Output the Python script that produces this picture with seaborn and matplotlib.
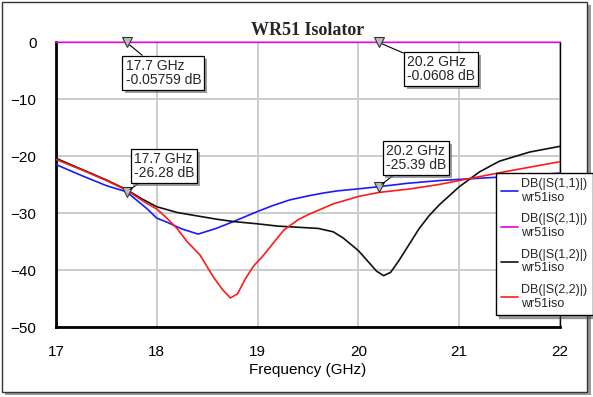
import numpy as np
import pandas as pd
import seaborn as sns
import matplotlib.pyplot as plt
import matplotlib.patheffects as pe
from matplotlib.patches import Rectangle

# S11 (blue)
f_s11 = [17.0, 17.25, 17.5, 17.7, 17.9, 18.0, 18.1, 18.25, 18.41, 18.59, 18.76, 18.99,
         19.15, 19.32, 19.5, 19.65, 19.8, 19.98, 20.2, 20.48, 20.81, 21.0, 21.5, 22.0]
db_s11 = [-21.5, -23.4, -25.2, -26.28, -29.2, -30.9, -31.6, -32.8, -33.7, -32.7, -31.5, -29.8,
          -28.7, -27.7, -27.0, -26.5, -26.1, -25.8, -25.39, -24.8, -24.3, -24.1, -23.6, -23.0]

# S21 (magenta)
f_s21 = [17.0, 17.7, 20.2, 22.0]
db_s21 = [-0.06, -0.05759, -0.0608, -0.06]

# S12 (black)
f_s12 = [17.0, 17.25, 17.5, 17.7, 17.85, 18.0, 18.2, 18.43, 18.6, 18.76, 19.0, 19.2, 19.4,
         19.6, 19.75, 19.85, 20.0, 20.1, 20.18, 20.25, 20.32, 20.4, 20.5, 20.6, 20.7, 20.8,
         21.0, 21.2, 21.4, 21.7, 22.0]
db_s12 = [-20.4, -22.3, -24.2, -25.9, -27.5, -28.9, -29.9, -30.6, -31.1, -31.5, -31.9, -32.3,
          -32.5, -32.7, -33.3, -34.4, -36.6, -38.6, -40.2, -41.0, -40.4, -38.4, -35.6, -32.8,
          -30.5, -28.6, -25.4, -22.8, -20.9, -19.3, -18.3]

# S22 (red)
f_s22 = [17.0, 17.25, 17.5, 17.7, 17.9, 18.0, 18.1, 18.2, 18.3, 18.43, 18.56, 18.65, 18.73,
         18.8, 18.88, 18.96, 19.05, 19.15, 19.26, 19.4, 19.5, 19.75, 20.0, 20.2, 20.5,
         20.8, 21.0, 21.5, 22.0]
db_s22 = [-20.6, -22.4, -24.3, -26.0, -28.3, -29.3, -30.9, -32.7, -35.0, -37.4, -41.2, -43.4,
          -44.9, -44.2, -41.5, -39.3, -37.6, -35.4, -33.0, -31.2, -30.3, -28.4, -27.1, -26.4,
          -25.8, -25.0, -24.3, -22.6, -21.0]

labels = ['DB(|S(1,1)|)\nwr51iso', 'DB(|S(2,1)|)\nwr51iso',
          'DB(|S(1,2)|)\nwr51iso', 'DB(|S(2,2)|)\nwr51iso']
colors = ['#1a1aff', '#e000e0', '#111111', '#ff1a1a']

# markers: (freq, dB, text, text x, text y)
markers = [
    (17.7, -0.05759, '17.7 GHz\n-0.05759 dB', 17.69, -5.4),
    (20.2, -0.0608, '20.2 GHz\n-0.0608 dB', 20.48, -4.75),
    (17.7, -26.28, '17.7 GHz\n-26.28 dB', 17.77, -21.8),
    (20.2, -25.39, '20.2 GHz\n-25.39 dB', 20.27, -20.35),
]

sns.set_theme(style='whitegrid', rc={'grid.color': '#cccccc', 'grid.linewidth': 1.4})
plt.rcParams['font.family'] = ['Liberation Sans', 'DejaVu Sans']

fig = plt.figure(figsize=(5.93, 3.97), dpi=100)
ax = fig.add_axes([0.0944, 0.1763, 0.85, 0.7179])

series = [(f_s11, db_s11), (f_s21, db_s21), (f_s12, db_s12), (f_s22, db_s22)]
for (fx, dbx), lab, c in zip(series, labels, colors):
    sns.lineplot(x=fx, y=dbx, ax=ax, color=c, lw=1.2, label=lab,
                 clip_on=(c != '#e000e0'), zorder=3)

for fm, dbm, txt, tx, ty in markers:
    ax.plot(fm, dbm, marker='v', ms=7, mfc='#bbbbbb', mec='#333333', mew=0.8,
            clip_on=False, zorder=5)
    a = ax.annotate(txt, xy=(fm, dbm), xytext=(tx, ty), fontsize=10, ha='left', va='center',
                    linespacing=1.0,
                    bbox=dict(boxstyle='square,pad=0.22', fc='white', ec='black', lw=0.9),
                    arrowprops=dict(arrowstyle='-', color='black', lw=0.8, shrinkA=0, shrinkB=3),
                    zorder=6)
    a.get_bbox_patch().set_path_effects([pe.withSimplePatchShadow(offset=(2, -2),
                                                                  shadow_rgbFace='#777777', alpha=0.7)])

ax.set_xlim(17, 22)
ax.set_ylim(-50, 0)
ax.set_xticks([17, 18, 19, 20, 21, 22])
ax.set_yticks([0, -10, -20, -30, -40, -50])
ax.tick_params(axis='both', length=0, labelsize=11, colors='black')
ax.tick_params(axis='y', pad=14)
ax.tick_params(axis='x', pad=13)
ax.set_xlabel('Frequency (GHz)', fontsize=11, color='black', labelpad=3)
ax.set_ylabel('')
for side in ['left', 'bottom']:
    ax.spines[side].set_color('black')
    ax.spines[side].set_linewidth(2)
for side in ['right', 'top']:
    ax.spines[side].set_color('black')
    ax.spines[side].set_linewidth(1)
ax.spines['top'].set_visible(False)

ax.set_title('WR51 Isolator', fontsize=13, fontweight='bold',
             family=['Liberation Serif', 'DejaVu Serif'], pad=5)

ax.get_legend().remove()
h, l = ax.get_legend_handles_labels()
leg = fig.legend(h, l, loc='upper left', bbox_to_anchor=(0.836, 0.565), fontsize=9,
                 frameon=True, fancybox=False, shadow=True, edgecolor='black',
                 handlelength=1.3, handletextpad=0.3, labelspacing=0.75, borderpad=0.45,
                 borderaxespad=0, framealpha=1)
leg.get_frame().set_linewidth(1)

# outer frame with drop shadow
fig.patches.append(Rectangle((0.009, 0.005), 0.988, 0.983, transform=fig.transFigure,
                             fc='#999999', ec='none', zorder=-2))
fig.patches.append(Rectangle((0.004, 0.013), 0.986, 0.982, transform=fig.transFigure,
                             fc='white', ec='#333333', lw=1, zorder=-1))

fig.savefig('out.png', dpi=100)
